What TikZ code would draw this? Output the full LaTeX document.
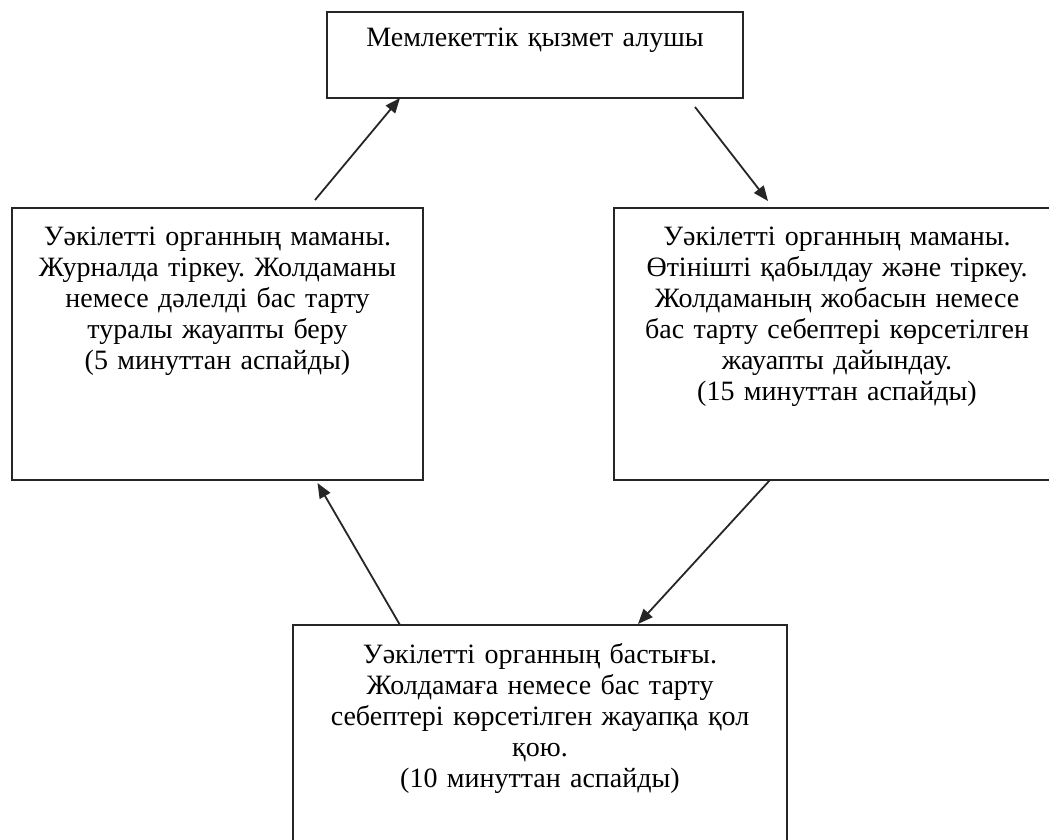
\documentclass[tikz,border=0pt]{standalone}
\usepackage{fontspec}
\setmainfont{Liberation Serif}
\usetikzlibrary{arrows.meta}
\frenchspacing
\begin{document}
\begin{tikzpicture}[x=1pt,y=-1pt,
  box/.style={draw=black!85, line width=2pt, inner sep=0pt, outer sep=0pt},
  txt/.style={anchor=north, align=center, inner sep=0pt, text width=440pt,
              font=\fontsize{28}{31}\selectfont},
  arr/.style={draw=black!85, line width=1.8pt, -{Triangle[length=15pt,width=12pt]}}]
  \useasboundingbox (0,0) rectangle (1049,840);
  \fill[white] (0,0) rectangle (1049,840);
  \clip (0,0) rectangle (1049,840);

  % process boxes
  \node[box, minimum width=416pt, minimum height=86pt]  (top)  at (535,55)    {};
  \node[box, minimum width=411pt, minimum height=272pt] (lbox) at (217.5,344) {};
  \node[box, minimum width=446pt, minimum height=272pt] (rbox) at (837,344)   {};
  \node[box, minimum width=494pt, minimum height=230pt] (bbox) at (540,740)   {};

  % box texts
  \node[txt] (ttop) at ([yshift=-16pt]top.north) {Мемлекеттік қызмет алушы};
  \node[txt] (tl) at ([yshift=-19pt]lbox.north)
    {Уәкілетті органның маманы.\\ Журналда тіркеу. Жолдаманы\\ немесе дәлелді бас тарту\\ туралы жауапты беру\\ (5 минуттан аспайды)};
  \node[txt] (tr) at ([yshift=-19pt]rbox.north)
    {Уәкілетті органның маманы.\\ Өтінішті қабылдау және тіркеу.\\ Жолдаманың жобасын немесе\\ бас тарту себептері көрсетілген\\ жауапты дайындау.\\ (15 минуттан аспайды)};
  \node[txt] (tb) at ([yshift=-18pt]bbox.north)
    {Уәкілетті органның бастығы.\\ Жолдамаға немесе бас тарту\\ себептері көрсетілген жауапқа қол\\ қою.\\ (10 минуттан аспайды)};

  % flow arrows
  \draw[arr] ([xshift=97.5pt,yshift=8pt]lbox.north) -- ([xshift=-135pt]top.south);
  \draw[arr] ([xshift=160pt,yshift=-9pt]top.south) -- ([xshift=-69pt,yshift=7pt]rbox.north);
  \draw[arr] ([xshift=-67pt]rbox.south) -- ([xshift=98pt,yshift=1pt]bbox.north);
  \draw[arr] ([xshift=-140pt]bbox.north) -- ([xshift=100pt,yshift=-3pt]lbox.south);
\end{tikzpicture}
\end{document}
